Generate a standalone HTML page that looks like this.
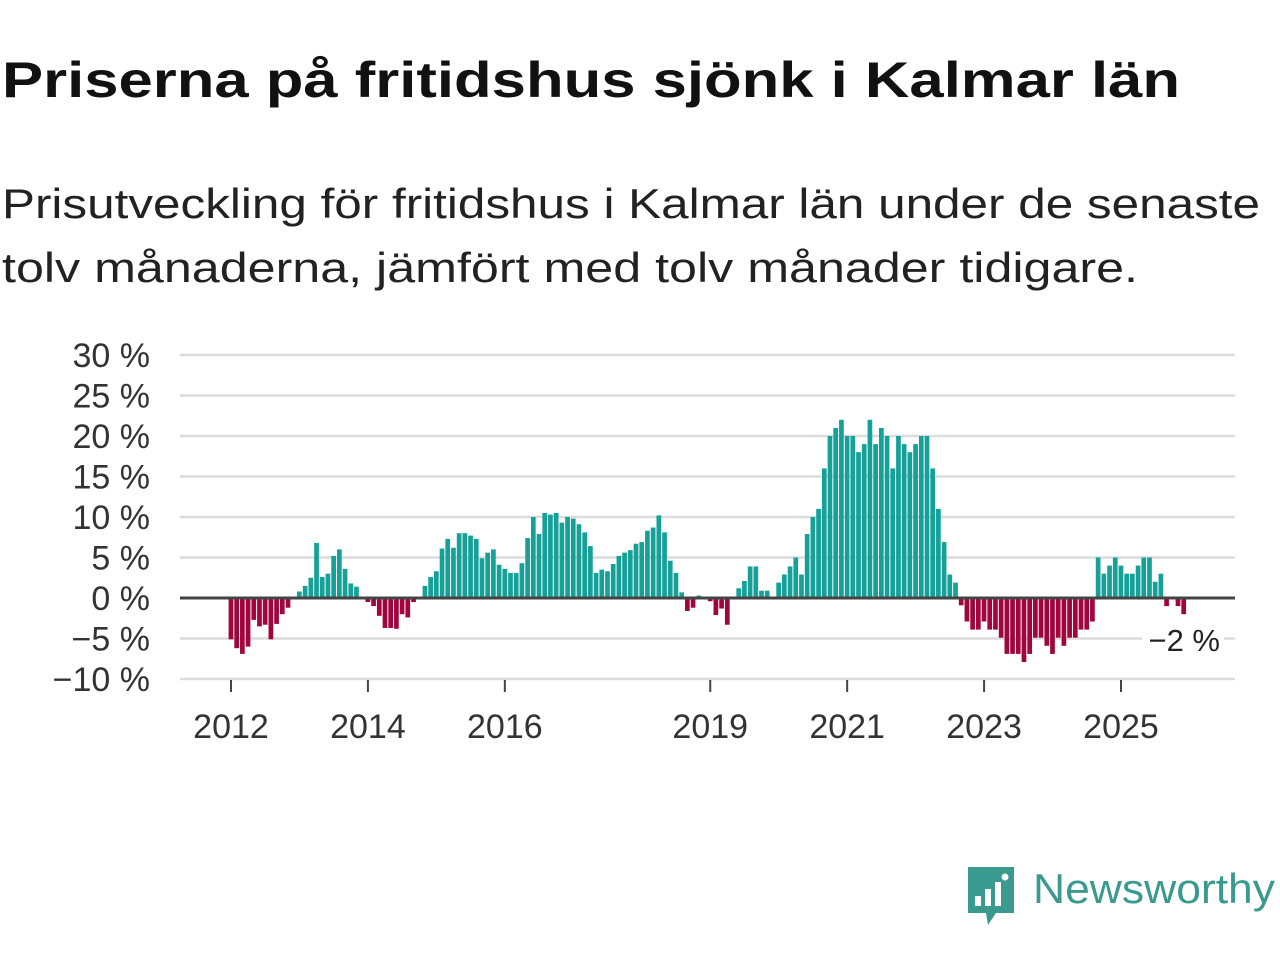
<!DOCTYPE html>
<html><head><meta charset="utf-8"><style>
html,body{margin:0;padding:0;background:#fff;}
svg{display:block;font-family:"Liberation Sans",sans-serif;}
</style></head><body>
<svg id="chart" width="1280" height="960" viewBox="0 0 1280 960" xmlns="http://www.w3.org/2000/svg">
<text x="2" y="97" font-size="50" font-weight="bold" fill="#111" textLength="1178" lengthAdjust="spacingAndGlyphs">Priserna på fritidshus sjönk i Kalmar län</text>
<text x="2" y="218" font-size="42" fill="#222" textLength="1258" lengthAdjust="spacingAndGlyphs">Prisutveckling för fritidshus i Kalmar län under de senaste</text>
<text x="2" y="282" font-size="42" fill="#222" textLength="1136" lengthAdjust="spacingAndGlyphs">tolv månaderna, jämfört med tolv månader tidigare.</text>
<g id="grid"></g>
<g id="yaxis"></g>
<g id="bars"></g>
<g id="xaxis"></g>
<g>
<rect x="1142" y="622" width="82" height="36" fill="#fff"/>
<text x="1220" y="651" font-size="31" text-anchor="end" fill="#222">−2 %</text>
</g>
<g>
<path d="M968 867 h46 v46 h-18 l-8 12 l-2 -12 h-18 z" fill="#3a9a8f"/>
<rect x="975" y="896" width="6" height="10" fill="#fff"/>
<rect x="985" y="889" width="6" height="17" fill="#fff"/>
<rect x="995" y="882" width="6" height="24" fill="#fff"/>
<circle cx="1005" cy="877" r="3.5" fill="#fff"/>
<text x="1033" y="903" font-size="42" fill="#3a9a8f" textLength="242" lengthAdjust="spacingAndGlyphs">Newsworthy</text>
</g>
</svg>
<script>
const values = [
-5.1,-6.2,-6.9,-6.0,-2.7,-3.5,-3.3,-5.1,-3.2,-2.0,-1.2,0,
0.8,1.5,2.5,6.8,2.6,3.0,5.2,6.0,3.6,1.8,1.4,0,
-0.5,-1.0,-2.2,-3.7,-3.7,-3.8,-2.0,-2.4,-0.5,0,1.5,2.6,
3.3,6.1,7.3,6.2,8.0,8.0,7.7,7.3,4.9,5.6,6.0,4.1,
3.6,3.1,3.1,4.3,7.4,10.0,7.9,10.5,10.3,10.5,9.3,10.0,
9.8,9.1,8.1,6.4,3.1,3.5,3.3,4.2,5.2,5.6,5.9,6.7,
6.9,8.3,8.7,10.2,8.1,4.6,3.1,0.7,-1.6,-1.2,0.3,0,
-0.4,-2.1,-1.3,-3.3,0,1.2,2.1,3.9,3.9,0.9,0.9,0,
1.9,2.9,3.9,5.0,2.9,7.9,10.0,11.0,16.0,20.0,21.0,22.0,
20.0,20.0,18.0,19.0,22.0,19.0,21.0,20.0,16.0,20.0,19.0,18.0,
19.0,20.0,20.0,16.0,11.0,6.9,2.9,1.9,-0.9,-2.9,-3.9,-3.9,
-2.9,-3.9,-3.9,-4.9,-6.9,-6.9,-6.9,-7.9,-6.9,-4.9,-4.9,-5.9,
-6.9,-4.9,-5.9,-4.9,-4.9,-3.9,-3.9,-2.9,5.0,3.0,4.0,5.0,
4.0,3.0,3.0,4.0,5.0,5.0,2.0,3.0,-1.0,0,-1.0,-2.0
];
const startYear = 2012;
const yTicks = [30,25,20,15,10,5,0,-5,-10];
const yTickLabels = ["30 %","25 %","20 %","15 %","10 %","5 %","0 %","−5 %","−10 %"];
const xTickYears = [2012,2014,2016,2019,2021,2023,2025];

const NS="http://www.w3.org/2000/svg";
const y0=598, pxPer=8.1, xLeft=180, xRight=1235;
const monthX0=231, monthW=(1121-231)/156;
function yScale(v){return y0 - v*pxPer;}
function xScale(i){return monthX0 + i*monthW;}
function mk(tag,attrs,parent){const e=document.createElementNS(NS,tag);for(const k in attrs)e.setAttribute(k,attrs[k]);parent.appendChild(e);return e;}
const grid=document.getElementById('grid'), yaxis=document.getElementById('yaxis'), bars=document.getElementById('bars'), xaxis=document.getElementById('xaxis');
yTicks.forEach((t,i)=>{
  if(t!==0){const l=mk('line',{x1:xLeft,x2:xRight,y1:yScale(t),y2:yScale(t),stroke:'#dcdcdc','stroke-width':2.5},grid);
  
  }
  const tx=mk('text',{x:150,y:yScale(t)+12,'font-size':34,'text-anchor':'end',fill:'#333'},yaxis);
  tx.textContent=yTickLabels[i];
  
  
});
values.forEach((v,i)=>{
  if(v===0)return;
  const x=xScale(i)-2.4;
  const r=mk('rect',{x:x,width:4.7,y:Math.min(yScale(v),y0),height:Math.abs(yScale(v)-y0),fill:v>0?'#15a098':'#a0063c'},bars);
  
  
});
const zl=mk('line',{x1:xLeft,x2:xRight,y1:y0,y2:y0,stroke:'#444','stroke-width':3},xaxis);


xTickYears.forEach(yr=>{
  const x=xScale((yr-startYear)*12);
  const tk=mk('line',{x1:x,x2:x,y1:680,y2:692,stroke:'#444','stroke-width':2},xaxis);
  
  
  const tx=mk('text',{x:x,y:738,'font-size':34,'text-anchor':'middle',fill:'#333'},xaxis);
  tx.textContent=yr;
  
  
});
</script>
</body></html>
